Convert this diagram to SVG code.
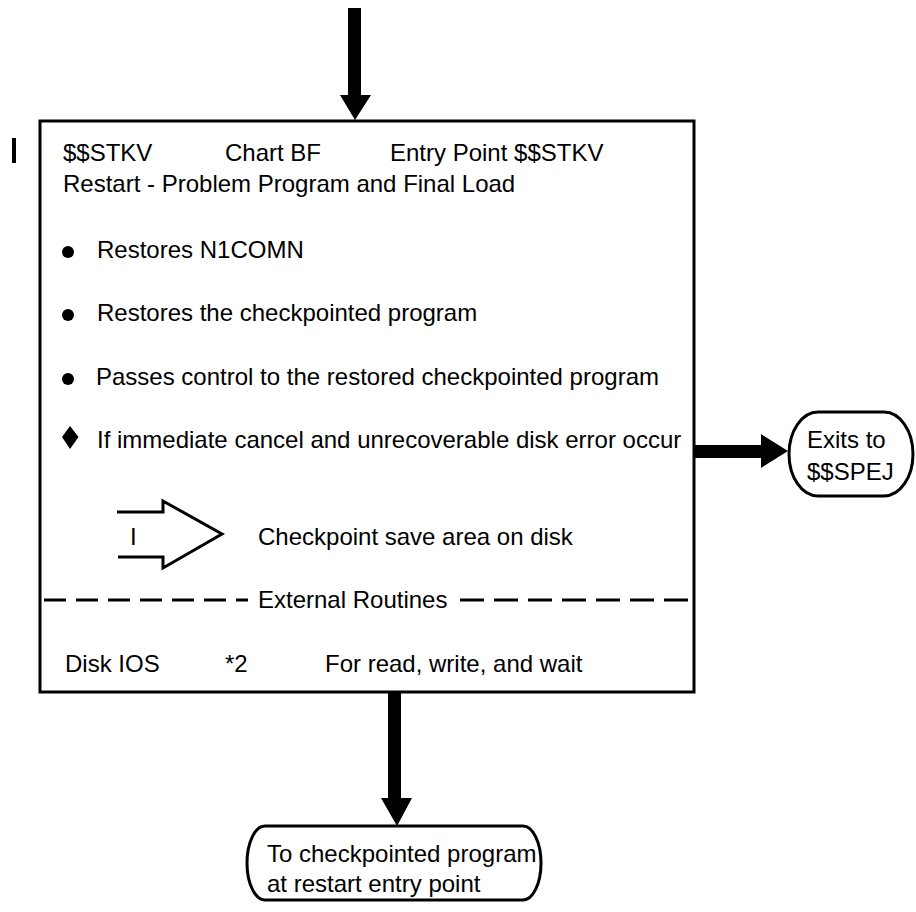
<svg xmlns="http://www.w3.org/2000/svg" width="916" height="912" viewBox="0 0 916 912">
<style>
text{font-family:"Liberation Sans",Arial,sans-serif;font-size:24px;fill:#000}
.box{fill:#fff;stroke:#000;stroke-width:3}
.term{fill:#fff;stroke:#000;stroke-width:3}
.thin{fill:none;stroke:#000;stroke-width:3}
.solid{fill:#000;stroke:none}
</style>
<rect width="916" height="912" fill="#fff"/>
<g id="connectors">
<path class="solid" d="M348,8 H361 V95 H371 L355,120 L340,95 H348 Z"/>
<path class="solid" d="M694,445 H761 V434 L788,451 L761,468 V458 H694 Z"/>
<path class="solid" d="M388,692 H401 V798 H412 L397,826 L381,798 H388 Z"/>
</g>
<g id="revbar"><rect x="12" y="138" width="4" height="25" fill="#000"/></g>
<g id="main">
<rect class="box" x="40" y="121" width="654" height="571"/>
<text x="63" y="161">$$STKV</text>
<text x="225" y="161">Chart BF</text>
<text x="390" y="161">Entry Point $$STKV</text>
<text x="63" y="192">Restart - Problem Program and Final Load</text>
<circle class="solid" cx="68" cy="252" r="6"/>
<text x="97" y="258">Restores N1COMN</text>
<circle class="solid" cx="68" cy="315" r="6"/>
<text x="97" y="321">Restores the checkpointed program</text>
<circle class="solid" cx="68" cy="379" r="6"/>
<text x="96" y="385">Passes control to the restored checkpointed program</text>
<path class="solid" d="M70,426 L78.5,437 L70,449 L62,437 Z"/>
<text x="97" y="448">If immediate cancel and unrecoverable disk error occur</text>
<path class="thin" d="M117,512 H163 V501 L222,534 L163,568 V557 H118"/>
<text x="130" y="545">I</text>
<text x="258" y="545">Checkpoint save area on disk</text>
<line x1="42" y1="600" x2="248" y2="600" stroke="#000" stroke-width="3" stroke-dasharray="22,10" stroke-dashoffset="-2"/>
<text x="258" y="608">External Routines</text>
<line x1="460" y1="600" x2="693" y2="600" stroke="#000" stroke-width="3" stroke-dasharray="24,10"/>
<text x="65" y="672">Disk IOS</text>
<text x="225" y="672">*2</text>
<text x="325" y="672">For read, write, and wait</text>
</g>
<g id="exit-spej">
<path class="term" d="M818,412 H884 A29,42 0 0 1 884,496 H818 A29,42 0 0 1 818,412 Z"/>
<text x="807" y="448">Exits to</text>
<text x="807" y="480">$$SPEJ</text>
</g>
<g id="exit-restart">
<path class="term" d="M265,826 H523 A18,37 0 0 1 523,900 H265 A18,37 0 0 1 265,826 Z"/>
<text x="267" y="862">To checkpointed program</text>
<text x="267" y="892">at restart entry point</text>
</g>
</svg>
